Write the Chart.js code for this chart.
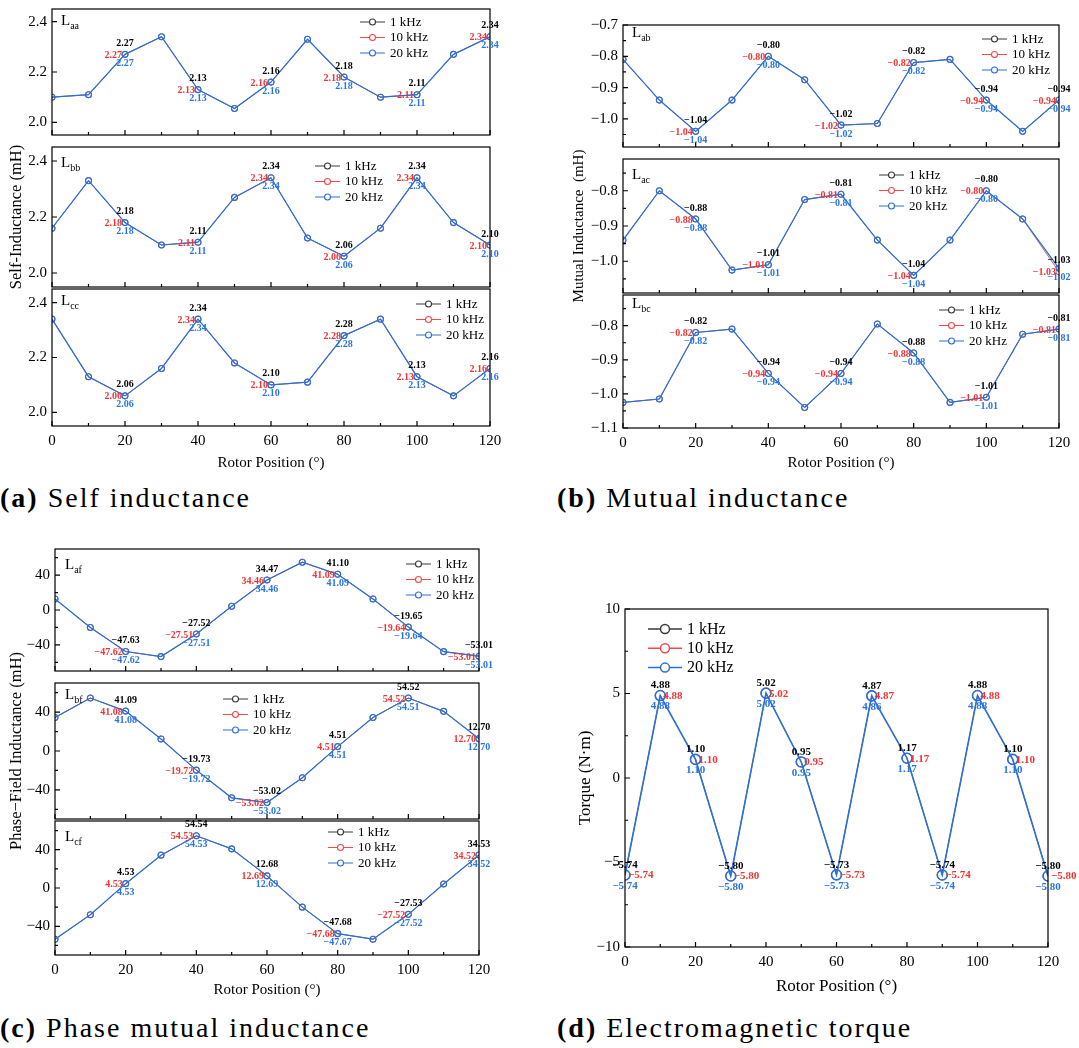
<!DOCTYPE html>
<html>
<head>
<meta charset="utf-8">
<script src="https://cdn.jsdelivr.net/npm/chart.js@4.4.0/dist/chart.umd.min.js"></script>
<style>
  body { margin: 0; background: #fff; width: 1079px; height: 1048px; position: relative; overflow: hidden; }
  canvas { position: absolute; }
  .cap { position: absolute; font-family: "Liberation Serif", serif; font-size: 28px; line-height: 28px; letter-spacing: 2px; white-space: nowrap; color: #000; }
</style>
</head>
<body>
<div class="cap" style="left:0px;top:484px"><b>(a)</b> Self inductance</div>
<div class="cap" style="left:557px;top:484px"><b>(b)</b> Mutual inductance</div>
<div class="cap" style="left:0px;top:1014px"><b>(c)</b> Phase mutual inductance</div>
<div class="cap" style="left:557px;top:1014px"><b>(d)</b> Electromagnetic torque</div>
<script>
const rotorPos = [0, 10, 20, 30, 40, 50, 60, 70, 80, 90, 100, 110, 120];
const xMajor = [0, 20, 40, 60, 80, 100, 120];
const xMinor = [10, 30, 50, 70, 90, 110];
const freqs = ['1 kHz', '10 kHz', '20 kHz'];

// (a) self inductance (mH)
const laa = [2.10, 2.11, 2.27, 2.34, 2.13, 2.055, 2.16, 2.33, 2.18, 2.10, 2.11, 2.27, 2.34];
const lbb = [2.16, 2.33, 2.18, 2.10, 2.11, 2.27, 2.34, 2.125, 2.06, 2.16, 2.34, 2.18, 2.10];
const lcc = [2.34, 2.13, 2.06, 2.16, 2.34, 2.18, 2.10, 2.11, 2.28, 2.34, 2.13, 2.06, 2.16];

// (b) mutual inductance (mH)
const lab = [-0.81, -0.94, -1.04, -0.94, -0.80, -0.875, -1.02, -1.015, -0.82, -0.81, -0.94, -1.04, -0.94];
const lac1k = [-0.94, -0.80, -0.88, -1.025, -1.01, -0.825, -0.81, -0.94, -1.04, -0.94, -0.80, -0.88, -1.03];
const lac20k = [-0.94, -0.80, -0.88, -1.025, -1.01, -0.825, -0.81, -0.94, -1.04, -0.94, -0.80, -0.88, -1.02];
const lbc = [-1.025, -1.015, -0.82, -0.81, -0.94, -1.04, -0.94, -0.795, -0.88, -1.025, -1.01, -0.825, -0.81];

// (c) phase-field inductance (mH)
const laf1k = [12.7, -20.0, -47.63, -53.5, -27.52, 4.3, 34.47, 54.8, 41.10, 12.7, -19.65, -47.8, -53.01];
const laf10k = [12.7, -20.0, -47.62, -53.5, -27.51, 4.3, 34.46, 54.8, 41.09, 12.7, -19.64, -47.8, -53.01];
const lbf1k = [34.5, 54.5, 41.09, 12.4, -19.73, -48.2, -53.02, -27.6, 4.51, 34.5, 54.52, 40.8, 12.70];
const lbf10k = [34.5, 54.5, 41.08, 12.4, -19.72, -48.2, -53.02, -27.6, 4.51, 34.5, 54.52, 40.8, 12.70];
const lbf20k = [34.5, 54.5, 41.08, 12.4, -19.72, -48.2, -53.02, -27.6, 4.51, 34.5, 54.51, 40.8, 12.70];
const lcf1k = [-53.5, -28.0, 4.53, 34.3, 54.54, 40.9, 12.68, -20.0, -47.68, -53.5, -27.53, 4.2, 34.53];
const lcf10k = [-53.5, -28.0, 4.53, 34.3, 54.53, 40.9, 12.69, -20.0, -47.68, -53.5, -27.52, 4.2, 34.52];
const lcf20k = [-53.5, -28.0, 4.53, 34.3, 54.53, 40.9, 12.69, -20.0, -47.67, -53.5, -27.52, 4.2, 34.52];

// (d) torque (N·m)
const torque1k = [-5.74, 4.88, 1.10, -5.80, 5.02, 0.95, -5.73, 4.87, 1.17, -5.74, 4.88, 1.10, -5.80];
const torque20k = [-5.74, 4.88, 1.10, -5.80, 5.02, 0.95, -5.73, 4.86, 1.17, -5.74, 4.88, 1.10, -5.80];

const lineColors = ['#3a3a3a', '#f24a4a', '#2b6fd9'];
const textColors = ['#000000', '#ee3535', '#2a74e2'];
const FONT = '"Liberation Serif", "Times New Roman", serif';

const bMinor = [-0.75, -0.85, -0.95, -1.05];
const cMinor = [-60, -20, 20, 60];

// box = [left, top, width, height] of the plot area in page pixels
const subplots = [
  { data: [laa, laa, laa], name: 'aa', cx: 0, box: [52, 7, 438, 140], yr: [1.95, 2.45], yt: [2.0, 2.2, 2.4], ym: [], dec: 1, leg: [360, 22], nm: [61, 21] },
  { data: [lbb, lbb, lbb], name: 'bb', cx: 0, box: [52, 147, 438, 140], yr: [1.95, 2.45], yt: [2.0, 2.2, 2.4], ym: [], dec: 1, leg: [315, 166], nm: [61, 163], yTitle: 'Self-Inductance (mH)', tsize: 16.5, tpad: 7 },
  { data: [lcc, lcc, lcc], name: 'cc', cx: 0, box: [52, 287, 438, 139], yr: [1.95, 2.45], yt: [2.0, 2.2, 2.4], ym: [], dec: 1, leg: [416, 304], nm: [61, 301], xh: 46 },

  { data: [lab, lab, lab], name: 'ab', cx: 560, box: [623, 23, 436, 136], yr: [-1.09, -0.7], yt: [-0.7, -0.8, -0.9, -1.0], ym: bMinor, dec: 1, leg: [982, 39], nm: [632, 33] },
  { data: [lac1k, lac1k, lac20k], name: 'ac', cx: 560, box: [623, 159, 436, 134], yr: [-1.09, -0.71], yt: [-0.8, -0.9, -1.0], ym: bMinor, dec: 1, leg: [879, 175], nm: [632, 175], yTitle: 'Mutual Inductance  (mH)', tsize: 15, tpad: 10 },
  { data: [lbc, lbc, lbc], name: 'bc', cx: 560, box: [623, 293, 436, 135], yr: [-1.1, -0.71], yt: [-0.8, -0.9, -1.0, -1.1], ym: bMinor, dec: 1, leg: [939, 310], nm: [632, 304], xh: 44 },

  { data: [laf1k, laf10k, laf10k], name: 'af', cx: 0, box: [55, 547, 424, 136], yr: [-70, 70], yt: [-40, 0, 40], ym: cMinor, dec: 0, leg: [406, 564], nm: [65, 565] },
  { data: [lbf1k, lbf10k, lbf20k], name: 'bf', cx: 0, box: [55, 683, 424, 136], yr: [-70, 70], yt: [-40, 0, 40], ym: cMinor, dec: 0, leg: [223, 699], nm: [65, 695], yTitle: 'Phase\u2212Field Inductance (mH)', tsize: 16.5, tpad: 7 },
  { data: [lcf1k, lcf10k, lcf20k], name: 'cf', cx: 0, box: [55, 819, 424, 136], yr: [-70, 70], yt: [-40, 0, 40], ym: cMinor, dec: 0, leg: [328, 832], nm: [65, 837], xh: 44 },

  { data: [torque1k, torque1k, torque20k], name: null, cx: 560, box: [625, 607, 423, 340], yr: [-10, 10], yt: [-10, -5, 0, 5, 10], ym: [-7.5, -2.5, 2.5, 7.5], dec: 0, leg: [648, 629], big: true, yTitle: 'Torque (N\u00b7m)', tsize: 17, tpad: 15, xh: 50 }
];

function fmt(v, d) {
  return v.toFixed(d).replace('-', '\u2212');
}

const decor = {
  id: 'decor',
  afterDatasetsDraw(chart) {
    const sp = chart.canvas._sp;
    const ctx = chart.ctx;
    const a = chart.chartArea;
    const xs = chart.scales.x, ys = chart.scales.y;
    const ox = sp.cx, oy = sp.box[1] - sp.pt;
    ctx.save();

    // frame and inward ticks
    ctx.strokeStyle = '#000';
    ctx.lineWidth = 1.2;
    ctx.strokeRect(a.left, a.top, a.right - a.left, a.bottom - a.top);
    ctx.beginPath();
    xMajor.forEach(v => { const x = xs.getPixelForValue(v); ctx.moveTo(x, a.bottom); ctx.lineTo(x, a.bottom - 5); });
    xMinor.forEach(v => { const x = xs.getPixelForValue(v); ctx.moveTo(x, a.bottom); ctx.lineTo(x, a.bottom - 3); });
    sp.yt.forEach(v => { const y = ys.getPixelForValue(v); ctx.moveTo(a.left, y); ctx.lineTo(a.left + 5, y); });
    sp.ym.forEach(v => { const y = ys.getPixelForValue(v); ctx.moveTo(a.left, y); ctx.lineTo(a.left + 3, y); });
    ctx.stroke();

    // value labels
    const idx = sp.big ? rotorPos.map((v, j) => j) : [2, 4, 6, 8, 10, 12];
    ctx.font = 'bold ' + (sp.big ? 11 : 10) + 'px ' + FONT;
    ctx.textBaseline = 'middle';
    for (let i = 0; i < 3; i++) {
      const meta = chart.getDatasetMeta(i);
      ctx.fillStyle = textColors[i];
      idx.forEach(j => {
        const p = meta.data[j];
        const txt = fmt(sp.data[i][j], 2);
        if (i === 0) {
          ctx.textAlign = 'center';
          ctx.fillText(txt, p.x, p.y - (sp.big ? 10 : 11));
        } else if (i === 1) {
          if (sp.big) { ctx.textAlign = 'left'; ctx.fillText(txt, p.x + 3, p.y + 0.5); }
          else { ctx.textAlign = 'right'; ctx.fillText(txt, p.x - 3, p.y + 1); }
        } else {
          ctx.textAlign = 'center';
          ctx.fillText(txt, p.x, p.y + (sp.big ? 11 : 9));
        }
      });
    }

    // legend
    const rowH = sp.big ? 19.3 : 15.5;
    const len = sp.big ? 34 : 25;
    const r = sp.big ? 4.5 : 3;
    ctx.font = (sp.big ? 16 : 13) + 'px ' + FONT;
    ctx.textAlign = 'left';
    for (let i = 0; i < 3; i++) {
      const lx = sp.leg[0] - ox, ly = sp.leg[1] - oy + i * rowH;
      ctx.strokeStyle = lineColors[i];
      ctx.lineWidth = sp.big ? 1.5 : 1.1;
      ctx.beginPath();
      ctx.moveTo(lx, ly);
      ctx.lineTo(lx + len / 2 - r, ly);
      ctx.moveTo(lx + len / 2 + r, ly);
      ctx.lineTo(lx + len, ly);
      ctx.stroke();
      ctx.beginPath();
      ctx.arc(lx + len / 2, ly, r, 0, Math.PI * 2);
      ctx.stroke();
      ctx.fillStyle = '#000';
      ctx.fillText(freqs[i], lx + len + 5, ly + 0.5);
    }

    // curve name, L with subscript
    if (sp.name) {
      const nx = sp.nm[0] - ox, ny = sp.nm[1] - oy;
      ctx.fillStyle = '#000';
      ctx.font = '15px ' + FONT;
      ctx.fillText('L', nx, ny);
      const w = ctx.measureText('L').width;
      ctx.font = '10px ' + FONT;
      ctx.fillText(sp.name, nx + w, ny + 5);
    }
    ctx.restore();
  }
};

subplots.forEach(sp => {
  // middle subplots get extra room above and below so the long y title is not cut
  const extra = (sp.yTitle && !sp.big) ? 40 : 0;
  sp.pt = 12 + extra;
  const pb = extra;
  const pr = sp.cx === 0 ? 40 : (sp.big ? 31 : 20);
  const yw = sp.box[0] - sp.cx;
  const xh = sp.xh || 2;
  const cv = document.createElement('canvas');
  cv.width = yw + sp.box[2] + pr;
  cv.height = sp.pt + sp.box[3] + xh + pb;
  cv.style.left = sp.cx + 'px';
  cv.style.top = (sp.box[1] - sp.pt) + 'px';
  cv._sp = sp;
  document.body.appendChild(cv);

  const showX = !!sp.xh;
  const titleSize = sp.big ? 17 : 15;

  new Chart(cv, {
    type: 'line',
    data: {
      datasets: sp.data.map((arr, i) => ({
        label: freqs[i],
        data: rotorPos.map((x, j) => ({ x: x, y: arr[j] })),
        borderColor: lineColors[i],
        backgroundColor: 'transparent',
        borderWidth: i === 2 ? (sp.big ? 1.6 : 1.2) : 0.5,
        pointRadius: sp.big ? 5 : 3,
        pointBorderWidth: i === 2 ? (sp.big ? 1.6 : 1.1) : 0.5,
        pointBackgroundColor: 'transparent',
        pointBorderColor: lineColors[i],
        tension: 0,
        order: 2 - i
      }))
    },
    options: {
      responsive: false,
      animation: false,
      devicePixelRatio: 1,
      layout: { padding: { left: 0, top: sp.pt, right: pr, bottom: pb } },
      plugins: { legend: { display: false }, tooltip: { enabled: false } },
      scales: {
        x: {
          type: 'linear', min: 0, max: 120,
          grid: { display: false, drawTicks: false },
          border: { display: false },
          afterBuildTicks: s => { s.ticks = xMajor.map(v => ({ value: v })); },
          afterFit: s => { s.height = xh; },
          ticks: { display: showX, padding: 6, color: '#000', maxRotation: 0, autoSkip: false, font: { family: FONT, size: 15 } },
          title: { display: showX, text: 'Rotor Position (\u00b0)', color: '#000', padding: 0, font: { family: FONT, size: titleSize } }
        },
        y: {
          min: sp.yr[0], max: sp.yr[1],
          grid: { display: false, drawTicks: false },
          border: { display: false },
          afterBuildTicks: s => { s.ticks = sp.yt.map(v => ({ value: v })); },
          afterFit: s => { s.width = yw; },
          ticks: { padding: 5, color: '#000', font: { family: FONT, size: 15 }, callback: v => fmt(v, sp.dec) },
          title: { display: !!sp.yTitle, text: sp.yTitle || '', color: '#000', padding: { top: sp.tpad || 0, bottom: 0 }, font: { family: FONT, size: sp.tsize || 15 } }
        }
      }
    },
    plugins: [decor]
  });
});
</script>
</body>
</html>
